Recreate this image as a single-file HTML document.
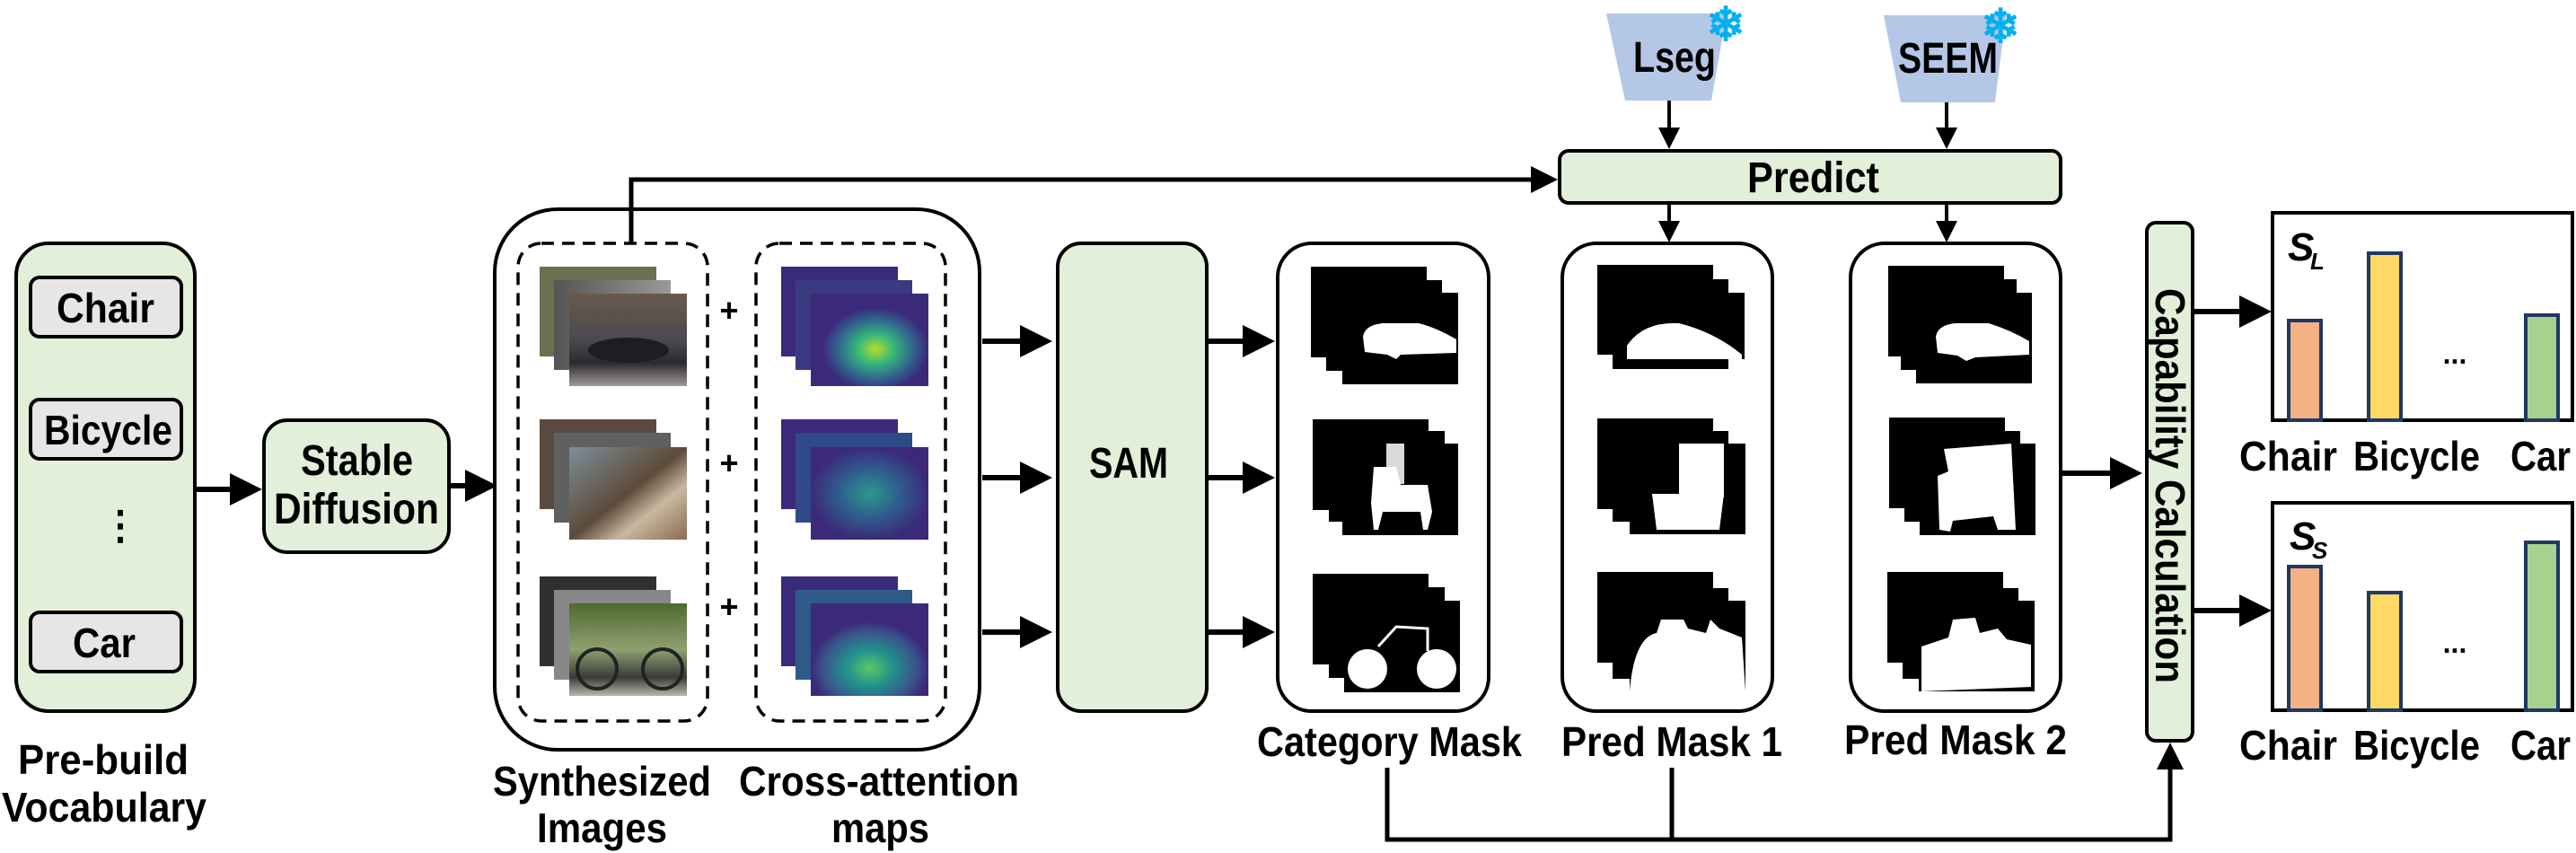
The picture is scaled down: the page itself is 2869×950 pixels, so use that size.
<!DOCTYPE html>
<html><head><meta charset="utf-8"><style>
html,body{margin:0;padding:0;background:#fff;}
svg{display:block;}
text{font-family:"Liberation Sans Narrow","Liberation Sans",sans-serif;font-weight:bold;fill:#000;}
</style></head><body>
<svg width="2869" height="950" viewBox="0 0 2869 950" xmlns="http://www.w3.org/2000/svg">
<defs>
<marker id="ah" markerWidth="6" markerHeight="6" refX="5" refY="3" orient="auto" markerUnits="strokeWidth">
<path d="M0,0 L6,3 L0,6 z" fill="#000"/></marker>
<linearGradient id="car" x1="0" y1="0" x2="0" y2="1"><stop offset="0" stop-color="#6b5a4a"/><stop offset="0.5" stop-color="#4a4a50"/><stop offset="0.75" stop-color="#2a2a30"/><stop offset="1" stop-color="#a09a98"/></linearGradient>
<linearGradient id="chair" x1="0" y1="0" x2="1" y2="1"><stop offset="0" stop-color="#7d8f99"/><stop offset="0.5" stop-color="#5e4a3a"/><stop offset="0.7" stop-color="#c8b8a0"/><stop offset="1" stop-color="#8a6a50"/></linearGradient>
<linearGradient id="bike" x1="0" y1="0" x2="0" y2="1"><stop offset="0" stop-color="#4e6a30"/><stop offset="0.5" stop-color="#8fa070"/><stop offset="0.8" stop-color="#3a3a3a"/><stop offset="1" stop-color="#b8b8a8"/></linearGradient>
<linearGradient id="gray" x1="0" y1="0" x2="1" y2="0"><stop offset="0" stop-color="#555"/><stop offset="1" stop-color="#999"/></linearGradient>
<radialGradient id="hm1" cx="0.55" cy="0.6" r="0.45"><stop offset="0" stop-color="#b5de2b"/><stop offset="0.35" stop-color="#35b779"/><stop offset="0.7" stop-color="#31688e"/><stop offset="1" stop-color="#3b2a7a"/></radialGradient>
<radialGradient id="hm2" cx="0.5" cy="0.5" r="0.5"><stop offset="0" stop-color="#2a9a8a"/><stop offset="0.5" stop-color="#2f5f8e"/><stop offset="1" stop-color="#3b2a7a"/></radialGradient>
<radialGradient id="hm3" cx="0.5" cy="0.7" r="0.5"><stop offset="0" stop-color="#5ac864"/><stop offset="0.4" stop-color="#21918c"/><stop offset="0.8" stop-color="#3b528b"/><stop offset="1" stop-color="#3b2a7a"/></radialGradient>
</defs>

<!-- Vocabulary -->
<rect x="18" y="271" width="199" height="521" rx="36" fill="#e2efd9" stroke="#000" stroke-width="4"/>
<rect x="34" y="309" width="168" height="66" rx="10" fill="#e7e6e6" stroke="#000" stroke-width="4"/>
<text x="63" y="359" font-size="46" textLength="109" lengthAdjust="spacingAndGlyphs">Chair</text>
<rect x="34" y="445" width="168" height="66" rx="10" fill="#e7e6e6" stroke="#000" stroke-width="4"/>
<text x="49" y="495" font-size="46" textLength="143" lengthAdjust="spacingAndGlyphs">Bicycle</text>
<text x="134" y="600" font-size="44" text-anchor="middle">⋮</text>
<rect x="34" y="682" width="168" height="66" rx="10" fill="#e7e6e6" stroke="#000" stroke-width="4"/>
<text x="81" y="732" font-size="46" textLength="70" lengthAdjust="spacingAndGlyphs">Car</text>
<text x="20" y="862" font-size="46" textLength="190" lengthAdjust="spacingAndGlyphs">Pre-build</text>
<text x="2" y="915" font-size="46" textLength="228" lengthAdjust="spacingAndGlyphs">Vocabulary</text>

<line x1="217" y1="545" x2="286" y2="545" stroke="#000" stroke-width="6" marker-end="url(#ah)"/>
<rect x="294" y="468" width="206" height="147" rx="26" fill="#e2efd9" stroke="#000" stroke-width="4"/>
<text x="335" y="529" font-size="48" textLength="125" lengthAdjust="spacingAndGlyphs">Stable</text>
<text x="305" y="583" font-size="48" textLength="184" lengthAdjust="spacingAndGlyphs">Diffusion</text>
<line x1="500" y1="541" x2="548" y2="541" stroke="#000" stroke-width="6" marker-end="url(#ah)"/>

<!-- big box -->
<rect x="551" y="233" width="540" height="602" rx="70" fill="#fff" stroke="#000" stroke-width="4"/>
<rect x="577" y="271" width="211" height="532" rx="26" fill="none" stroke="#000" stroke-width="3.5" stroke-dasharray="14,9"/>
<rect x="842" y="271" width="211" height="532" rx="26" fill="none" stroke="#000" stroke-width="3.5" stroke-dasharray="14,9"/>
<g>
<rect x="601" y="297" width="130" height="100" fill="#6a7050"/>
<rect x="617" y="312" width="130" height="100" fill="url(#gray)"/>
<rect x="634" y="327" width="131" height="103" fill="url(#car)"/>
<ellipse cx="700" cy="390" rx="45" ry="14" fill="#1e1e22"/>
<rect x="601" y="467" width="130" height="100" fill="#5a4a40"/>
<rect x="617" y="482" width="130" height="100" fill="#606060"/>
<rect x="634" y="498" width="131" height="103" fill="url(#chair)"/>
<rect x="601" y="642" width="130" height="100" fill="#303030"/>
<rect x="617" y="657" width="130" height="100" fill="#888"/>
<rect x="634" y="672" width="131" height="103" fill="url(#bike)"/>
<circle cx="665" cy="745" r="22" fill="none" stroke="#222" stroke-width="4"/>
<circle cx="738" cy="745" r="22" fill="none" stroke="#222" stroke-width="4"/>
</g>
<text x="812" y="358" font-size="36" text-anchor="middle">+</text>
<text x="812" y="528" font-size="36" text-anchor="middle">+</text>
<text x="812" y="688" font-size="36" text-anchor="middle">+</text>
<g>
<rect x="870" y="297" width="130" height="100" fill="#3b2a7a"/>
<rect x="886" y="312" width="130" height="100" fill="#3a3a80"/>
<rect x="903" y="327" width="131" height="103" fill="url(#hm1)"/>
<rect x="870" y="467" width="130" height="100" fill="#3b2a7a"/>
<rect x="886" y="482" width="130" height="100" fill="#2e4a88"/>
<rect x="903" y="498" width="131" height="103" fill="url(#hm2)"/>
<rect x="870" y="642" width="130" height="100" fill="#3b2a7a"/>
<rect x="886" y="657" width="130" height="100" fill="#2e5a8a"/>
<rect x="903" y="672" width="131" height="103" fill="url(#hm3)"/>
</g>
<text x="549" y="886" font-size="46" textLength="243" lengthAdjust="spacingAndGlyphs">Synthesized</text>
<text x="598" y="938" font-size="46" textLength="145" lengthAdjust="spacingAndGlyphs">Images</text>
<text x="823" y="886" font-size="46" textLength="312" lengthAdjust="spacingAndGlyphs">Cross-attention</text>
<text x="926" y="938" font-size="46" textLength="109" lengthAdjust="spacingAndGlyphs">maps</text>

<polyline points="703,271 703,200 1730,200" fill="none" stroke="#000" stroke-width="5" marker-end="url(#ah)"/>

<line x1="1094" y1="380" x2="1166" y2="380" stroke="#000" stroke-width="6" marker-end="url(#ah)"/>
<line x1="1094" y1="532" x2="1166" y2="532" stroke="#000" stroke-width="6" marker-end="url(#ah)"/>
<line x1="1094" y1="704" x2="1166" y2="704" stroke="#000" stroke-width="6" marker-end="url(#ah)"/>
<rect x="1178" y="271" width="166" height="521" rx="26" fill="#e2efd9" stroke="#000" stroke-width="4"/>
<text x="1213" y="532" font-size="48" textLength="88" lengthAdjust="spacingAndGlyphs">SAM</text>
<line x1="1344" y1="380" x2="1414" y2="380" stroke="#000" stroke-width="6" marker-end="url(#ah)"/>
<line x1="1344" y1="532" x2="1414" y2="532" stroke="#000" stroke-width="6" marker-end="url(#ah)"/>
<line x1="1344" y1="704" x2="1414" y2="704" stroke="#000" stroke-width="6" marker-end="url(#ah)"/>

<!-- Lseg / SEEM -->
<polygon points="1789,15 1923,15 1906,112 1810,112" fill="#b4c7e7"/>
<text x="1819" y="80" font-size="48" textLength="92" lengthAdjust="spacingAndGlyphs">Lseg</text>
<text x="1922" y="45" font-size="52" text-anchor="middle" style="fill:#00b0f0">❄</text>
<polygon points="2098,17 2234,17 2222,114 2117,114" fill="#b4c7e7"/>
<text x="2114" y="81" font-size="48" textLength="111" lengthAdjust="spacingAndGlyphs">SEEM</text>
<text x="2228" y="47" font-size="52" text-anchor="middle" style="fill:#00b0f0">❄</text>
<line x1="1859" y1="112" x2="1859" y2="162" stroke="#000" stroke-width="4" marker-end="url(#ah)"/>
<line x1="2168" y1="114" x2="2168" y2="162" stroke="#000" stroke-width="4" marker-end="url(#ah)"/>
<rect x="1737" y="168" width="558" height="58" rx="10" fill="#e2efd9" stroke="#000" stroke-width="4"/>
<text x="1946" y="214" font-size="48" textLength="147" lengthAdjust="spacingAndGlyphs">Predict</text>
<line x1="1859" y1="226" x2="1859" y2="266" stroke="#000" stroke-width="4" marker-end="url(#ah)"/>
<line x1="2168" y1="226" x2="2168" y2="266" stroke="#000" stroke-width="4" marker-end="url(#ah)"/>

<rect x="1423" y="271" width="235" height="521" rx="38" fill="#fff" stroke="#000" stroke-width="4"/>
<rect x="1740" y="271" width="234" height="521" rx="38" fill="#fff" stroke="#000" stroke-width="4"/>
<rect x="2061" y="271" width="234" height="521" rx="38" fill="#fff" stroke="#000" stroke-width="4"/>

<g fill="#000">
<rect x="1460" y="297" width="129" height="101"/><rect x="1477" y="312" width="129" height="101"/><rect x="1495" y="326" width="129" height="102"/>
<rect x="1462" y="467" width="129" height="101"/><rect x="1480" y="480" width="129" height="101"/><rect x="1495" y="494" width="129" height="102"/>
<rect x="1462" y="639" width="129" height="101"/><rect x="1480" y="654" width="129" height="101"/><rect x="1497" y="669" width="129" height="102"/>
</g>
<g fill="#fff">
<path d="M1518,375 Q1520,362 1540,360 L1580,360 Q1600,365 1622,378 L1622,393 L1560,395 L1555,400 L1545,395 L1520,392 Z"/>
<path d="M1530,520 L1555,520 L1560,540 L1590,540 L1595,570 L1590,590 L1585,590 L1582,570 L1540,570 L1535,590 L1530,590 L1527,560 Z"/>
<rect x="1544" y="494" width="20" height="45" opacity="0.85"/>
<circle cx="1523" cy="745" r="22"/><circle cx="1600" cy="745" r="22"/>
<path d="M1535,720 L1555,698 L1590,700 L1590,725" fill="none" stroke="#fff" stroke-width="3"/>
</g>
<g fill="#000">
<rect x="1779" y="295" width="129" height="100"/><rect x="1796" y="311" width="129" height="100"/><rect x="1814" y="326" width="129" height="74"/>
<rect x="1779" y="466" width="129" height="101"/><rect x="1796" y="480" width="129" height="101"/><rect x="1815" y="494" width="129" height="101"/>
<rect x="1779" y="637" width="129" height="101"/><rect x="1796" y="655" width="129" height="101"/><rect x="1815" y="669" width="129" height="101"/>
</g>
<g fill="#fff">
<path d="M1812,385 Q1830,358 1870,360 Q1910,370 1940,395 L1940,400 L1812,400 Z"/>
<rect x="1870" y="494" width="50" height="60"/>
<path d="M1840,550 L1920,550 L1915,590 L1845,590 Z"/>
<path d="M1815,770 Q1820,710 1845,705 L1850,690 L1875,690 L1880,700 L1900,705 L1905,690 L1915,700 L1940,710 L1944,770 Z"/>
</g>
<g fill="#000">
<rect x="2103" y="296" width="129" height="101"/><rect x="2117" y="311" width="129" height="101"/><rect x="2134" y="326" width="129" height="101"/>
<rect x="2104" y="465" width="129" height="101"/><rect x="2121" y="480" width="129" height="101"/><rect x="2138" y="494" width="129" height="102"/>
<rect x="2102" y="637" width="129" height="101"/><rect x="2119" y="655" width="129" height="101"/><rect x="2137" y="669" width="129" height="101"/>
</g>
<g fill="#fff">
<path d="M2156,375 Q2158,362 2178,360 L2215,360 Q2240,368 2260,380 L2260,395 L2200,398 L2190,402 L2180,396 L2158,393 Z"/>
<path d="M2165,500 L2240,494 L2245,590 L2225,590 L2220,575 L2175,580 L2172,592 L2160,590 L2158,530 L2170,525 Z"/>
<path d="M2140,770 L2140,720 L2170,710 L2175,690 L2200,688 L2205,705 L2225,700 L2235,712 L2262,718 L2262,765 Z"/>
</g>

<text x="1400" y="842" font-size="46" textLength="295" lengthAdjust="spacingAndGlyphs">Category Mask</text>
<text x="1739" y="842" font-size="46" textLength="246" lengthAdjust="spacingAndGlyphs">Pred Mask 1</text>
<text x="2054" y="840" font-size="46" textLength="248" lengthAdjust="spacingAndGlyphs">Pred Mask 2</text>

<polyline points="1545,855 1545,935 2417,935 2417,832" fill="none" stroke="#000" stroke-width="5" marker-end="url(#ah)"/>
<line x1="1862" y1="855" x2="1862" y2="935" stroke="#000" stroke-width="5"/>

<line x1="2295" y1="527" x2="2380" y2="527" stroke="#000" stroke-width="6" marker-end="url(#ah)"/>
<rect x="2391" y="248" width="51" height="577" rx="10" fill="#e2efd9" stroke="#000" stroke-width="4"/>
<text x="0" y="0" font-size="46" textLength="440" lengthAdjust="spacingAndGlyphs" transform="translate(2401,321) rotate(90)">Capability Calculation</text>
<line x1="2442" y1="347" x2="2524" y2="347" stroke="#000" stroke-width="6" marker-end="url(#ah)"/>
<line x1="2442" y1="680" x2="2524" y2="680" stroke="#000" stroke-width="6" marker-end="url(#ah)"/>

<rect x="2531" y="237" width="334" height="231" fill="#fff" stroke="#000" stroke-width="4"/>
<rect x="2549" y="357" width="36" height="111" fill="#f4b183" stroke="#1f3864" stroke-width="4"/>
<rect x="2638" y="282" width="36" height="186" fill="#ffd966" stroke="#1f3864" stroke-width="4"/>
<rect x="2813" y="351" width="36" height="117" fill="#a9d18e" stroke="#1f3864" stroke-width="4"/>
<text x="2734" y="405" font-size="32" text-anchor="middle">...</text>
<text x="2548" y="290" font-size="44" font-style="italic" font-family="Liberation Serif">S</text>
<text x="2573" y="300" font-size="26" font-style="italic" font-family="Liberation Serif">L</text>
<text x="2494" y="524" font-size="46" textLength="109" lengthAdjust="spacingAndGlyphs">Chair</text>
<text x="2621" y="524" font-size="46" textLength="141" lengthAdjust="spacingAndGlyphs">Bicycle</text>
<text x="2796" y="524" font-size="46" textLength="67" lengthAdjust="spacingAndGlyphs">Car</text>

<rect x="2531" y="560" width="334" height="231" fill="#fff" stroke="#000" stroke-width="4"/>
<rect x="2549" y="631" width="36" height="160" fill="#f4b183" stroke="#1f3864" stroke-width="4"/>
<rect x="2638" y="660" width="36" height="131" fill="#ffd966" stroke="#1f3864" stroke-width="4"/>
<rect x="2813" y="604" width="36" height="187" fill="#a9d18e" stroke="#1f3864" stroke-width="4"/>
<text x="2734" y="727" font-size="32" text-anchor="middle">...</text>
<text x="2550" y="612" font-size="44" font-style="italic" font-family="Liberation Serif">S</text>
<text x="2575" y="622" font-size="26" font-style="italic" font-family="Liberation Serif">S</text>
<text x="2494" y="846" font-size="46" textLength="109" lengthAdjust="spacingAndGlyphs">Chair</text>
<text x="2621" y="846" font-size="46" textLength="141" lengthAdjust="spacingAndGlyphs">Bicycle</text>
<text x="2796" y="846" font-size="46" textLength="67" lengthAdjust="spacingAndGlyphs">Car</text>
</svg>
</body></html>
